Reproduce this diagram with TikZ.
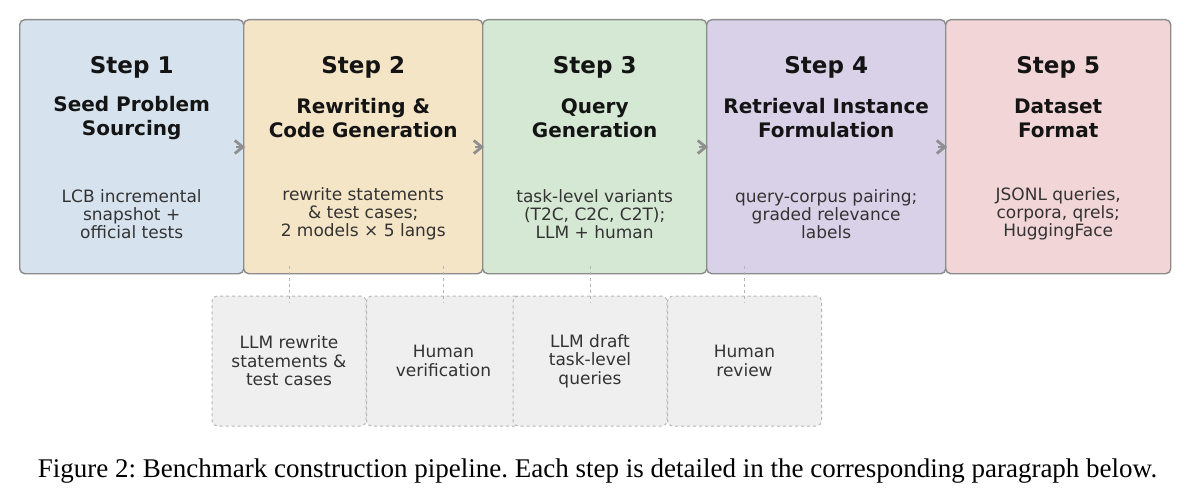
\documentclass[tikz,border=0pt]{standalone}
\usepackage{fontspec}
\setmainfont{DejaVu Sans}
\newfontfamily\capfont{Liberation Serif}
\usetikzlibrary{arrows.meta}
\definecolor{cA}{HTML}{D6E3EE}
\definecolor{cB}{HTML}{F5E5C7}
\definecolor{cC}{HTML}{D5E8D4}
\definecolor{cD}{HTML}{D9D1E8}
\definecolor{cE}{HTML}{F2D5D6}
\definecolor{edgegray}{HTML}{8C8C8C}
\definecolor{subfill}{HTML}{EFEFEF}
\definecolor{subedge}{HTML}{B5B5B5}
\definecolor{arrgray}{HTML}{8F8F8F}
\definecolor{txtdark}{HTML}{333333}
\tikzset{
  stagebox/.style={draw=edgegray, line width=1.4pt, rounded corners=5pt, inner sep=0pt, anchor=north west},
  steplabel/.style={font=\fontsize{23}{27}\selectfont\bfseries, text=black!92},
  titlelabel/.style={font=\fontsize{20}{24}\selectfont\bfseries, text=black!92, align=center},
  desclabel/.style={font=\fontsize{17}{18}\selectfont, text=txtdark, align=center},
  subbox/.style={draw=subedge, fill=subfill, dashed, line width=1pt, rounded corners=5pt, minimum width=154pt, minimum height=130pt, inner sep=0pt, font=\fontsize{17}{18.5}\selectfont, text=txtdark, align=center},
  flowarrow/.style={draw=arrgray, line width=2.8pt, -{Straight Barb[length=8pt,width=13pt]}},
  subconn/.style={draw=subedge, dashed, line width=1pt},
}
\begin{document}
\begin{tikzpicture}[x=1pt,y=-1pt]
\useasboundingbox (0,0) rectangle (1188,503);
% stage boxes
\node[stagebox, fill=cA, minimum width=224pt, minimum height=254pt] (s1) at (19,19) {};
\node[stagebox, fill=cB, minimum width=239pt, minimum height=254pt] (s2) at (243,19) {};
\node[stagebox, fill=cC, minimum width=224pt, minimum height=254pt] (s3) at (482,19) {};
\node[stagebox, fill=cD, minimum width=239pt, minimum height=254pt] (s4) at (706,19) {};
\node[stagebox, fill=cE, minimum width=225pt, minimum height=254pt] (s5) at (945,19) {};
% texts
\foreach \b/\n in {s1/1,s2/2,s3/3,s4/4,s5/5}{
  \node[steplabel] (\b step) at (\b.center |- 0,67) {Step \n};
}
\node[titlelabel] (s1t) at (s1.center |- 0,118) {Seed Problem\\Sourcing};
\node[titlelabel] (s2t) at (s2.center |- 0,118) {Rewriting \&\\Code Generation};
\node[titlelabel] (s3t) at (s3.center |- 0,118) {Query\\Generation};
\node[titlelabel] (s4t) at (s4.center |- 0,118) {Retrieval Instance\\Formulation};
\node[titlelabel] (s5t) at (s5.center |- 0,118) {Dataset\\Format};
\node[desclabel] (s1d) at (s1.center |- 0,214) {LCB incremental\\snapshot +\\official tests};
\node[desclabel] (s2d) at (s2.center |- 0,214) {rewrite statements\\\& test cases;\\2 models × 5 langs};
\node[desclabel] (s3d) at (s3.center |- 0,214) {task-level variants\\(T2C, C2C, C2T);\\LLM + human};
\node[desclabel] (s4d) at (s4.center |- 0,214) {query-corpus pairing;\\graded relevance\\labels};
\node[desclabel] (s5d) at (s5.center |- 0,214) {JSONL queries,\\corpora, qrels;\\HuggingFace};
% flow arrows
\foreach \a/\b in {s1/s2,s2/s3,s3/s4,s4/s5}{
  \draw[flowarrow] ([xshift=-8pt,yshift=-128pt]\a.north east) -- ([xshift=2pt,yshift=-128pt]\b.north west);
}
% sub boxes
\node[subbox] (d1) at (289,361) {LLM rewrite\\statements \&\\test cases};
\node[subbox] (d2) at (443.5,361) {Human\\verification};
\node[subbox] (d3) at (590,361) {LLM draft\\task-level\\queries};
\node[subbox] (d4) at (744.5,361) {Human\\review};
% connectors
\draw[subconn] ([yshift=8pt]s2.south -| d1.center) -- ([yshift=-7pt]d1.north);
\draw[subconn] ([yshift=8pt]s2.south -| d2.center) -- ([yshift=-7pt]d2.north);
\draw[subconn] ([yshift=8pt]s3.south -| d3.center) -- ([yshift=-7pt]d3.north);
\draw[subconn] ([yshift=8pt]s4.south -| d4.center) -- ([yshift=-7pt]d4.north);
% caption
\node[font=\capfont\fontsize{27}{31}\selectfont, text=black] (cap) at (597.5,471) {\frenchspacing Figure 2: Benchmark construction pipeline. Each step is detailed in the corresponding paragraph below.};
\end{tikzpicture}
\end{document}
